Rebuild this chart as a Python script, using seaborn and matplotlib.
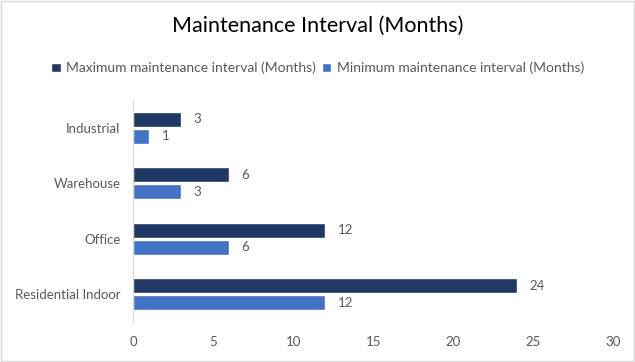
import matplotlib.pyplot as plt
import pandas as pd
import seaborn as sns

categories = ["Industrial", "Warehouse", "Office", "Residential Indoor"]
max_interval = [3, 6, 12, 24]
min_interval = [1, 3, 6, 12]
series_names = [
    "Maximum maintenance interval (Months)",
    "Minimum maintenance interval (Months)",
]
x_ticks = [0, 5, 10, 15, 20, 25, 30]

df = pd.concat([
    pd.DataFrame({"category": categories, "value": max_interval, "series": series_names[0]}),
    pd.DataFrame({"category": categories, "value": min_interval, "series": series_names[1]}),
])

sns.set_style("white")
plt.rcParams["font.family"] = ["Lato", "DejaVu Sans"]
text_color = "#595959"

fig = plt.figure(figsize=(6.35, 3.62), dpi=100)
ax = fig.add_axes([0.2094, 0.1105, 0.7566, 0.6133])

sns.barplot(
    data=df,
    y="category",
    x="value",
    hue="series",
    order=categories,
    hue_order=series_names,
    palette=["#203864", "#4472C4"],
    saturation=1,
    orient="h",
    width=0.6,
    gap=0.1,
    legend=True,
    ax=ax,
)

for container in ax.containers:
    ax.bar_label(container, padding=9, color=text_color, fontsize=9.5)

ax.set_xlim(0, 30)
ax.set_xticks(x_ticks)
ax.set_xlabel("")
ax.set_ylabel("")
ax.tick_params(axis="both", length=0, labelsize=9.5, labelcolor=text_color)
ax.tick_params(axis="x", pad=10)
ax.tick_params(axis="y", pad=9)
for side in ["top", "right", "bottom"]:
    ax.spines[side].set_visible(False)
ax.spines["left"].set_color("#d9d9d9")
ax.spines["left"].set_linewidth(0.8)

handles, labels = ax.get_legend_handles_labels()
ax.get_legend().remove()
fig.legend(
    handles,
    labels,
    loc="center",
    bbox_to_anchor=(0.5, 0.812),
    ncol=2,
    frameon=False,
    fontsize=10,
    labelcolor=text_color,
    handlelength=0.7,
    handleheight=0.7,
    handletextpad=0.4,
    columnspacing=0.4,
)

fig.suptitle("Maintenance Interval (Months)", y=0.955, fontsize=15.5, color="#000000")

fig.patches.append(plt.Rectangle((0.002, 0.003), 0.996, 0.994, transform=fig.transFigure,
                                 fill=False, edgecolor="#d9d9d9", linewidth=1))

fig.savefig("out.png", dpi=100)
